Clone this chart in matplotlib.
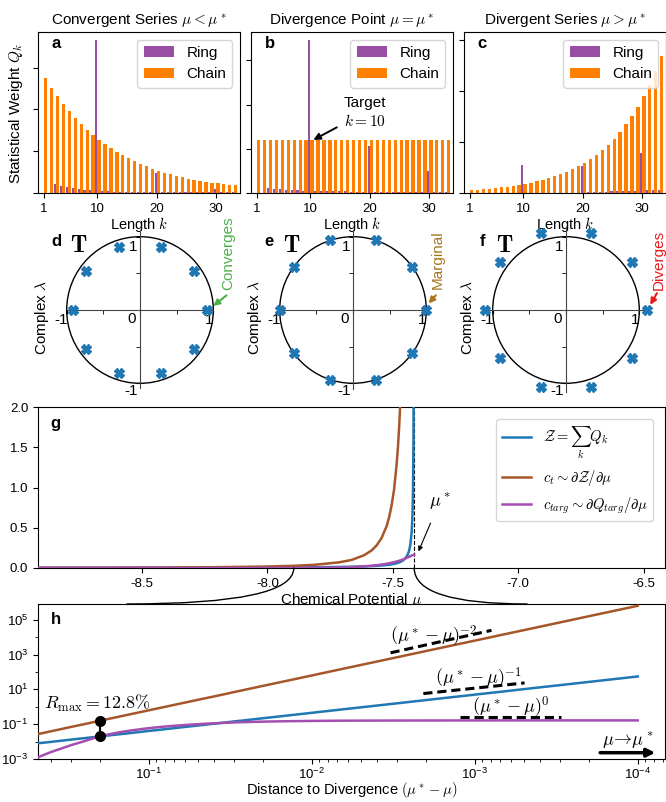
import numpy as np
import matplotlib.pyplot as plt
from matplotlib.patches import Circle, ConnectionPatch

plt.rcParams['font.family'] = ['Liberation Sans', 'DejaVu Sans']
plt.rcParams['mathtext.fontset'] = 'cm'
plt.rcParams['axes.unicode_minus'] = False

# ---- datos panel a-c : pesos estadisticos por longitud k ----
k = np.arange(1, 34)
chain_a = [2.74, 2.50, 2.32, 2.12, 1.96, 1.79, 1.64, 1.51, 1.39, 1.27, 1.17, 1.07, 0.98,
           0.90, 0.83, 0.76, 0.70, 0.64, 0.57, 0.52, 0.49, 0.45, 0.41, 0.38, 0.34, 0.31,
           0.29, 0.27, 0.25, 0.23, 0.21, 0.19, 0.18]
ring_a = [0, 0, 0.21, 0.17, 0.14, 0.12, 0.095, 0.07, 0.063, 3.67, 0.05, 0.048, 0.03,
          0.03, 0.025, 0.025, 0.025, 0.025, 0.025, 0.48, 0.02, 0.02, 0.02, 0.02, 0.02,
          0.02, 0.02, 0.02, 0.02, 0.09, 0.015, 0.015, 0.015]
chain_b = [1.2] * 33
ring_b = [0, 0, 0.105, 0.083, 0.083, 0.06, 0.06, 0.06, 0.04, 3.47, 0.04, 0.04, 0.04,
          0.04, 0.04, 0.04, 0.015, 0.015, 0.015, 1.07, 0.015, 0.015, 0.015, 0.015, 0.015,
          0.015, 0.015, 0.015, 0.015, 0.50, 0.015, 0.015, 0.015]
chain_c = [0.059, 0.059, 0.078, 0.078, 0.098, 0.118, 0.118, 0.137, 0.157, 0.176, 0.196,
           0.235, 0.255, 0.294, 0.333, 0.373, 0.41, 0.47, 0.53, 0.59, 0.667, 0.745, 0.843,
           0.941, 1.06, 1.196, 1.35, 1.51, 1.686, 1.9, 2.12, 2.38, 2.68]
ring_c = [0, 0, 0.005, 0.005, 0.005, 0.005, 0.005, 0.005, 0.005, 0.55, 0.005, 0.005,
          0.005, 0.005, 0.005, 0.005, 0.005, 0.005, 0.005, 0.53, 0.02, 0.02, 0.025, 0.025,
          0.03, 0.03, 0.04, 0.04, 0.045, 0.78, 0.05, 0.05, 0.06]
titulos = [r'Convergent Series $\mu < \mu^*$', r'Divergence Point $\mu = \mu^*$',
           r'Divergent Series $\mu > \mu^*$']
ytops = [3.85, 3.64, 3.15]

# ---- datos panel d-f : autovalores (angulo, radio) ----
angulos = [0, 36, 72, 108, 144, 180, 216, 252, 288, 324]
radios = [0.91, 1.0, 1.11]
notas = ['Converges', 'Marginal', 'Diverges']
# etiquetas de los ejes del plano complejo (texto, x, y)
etiquetas_plano = [('1', -0.09, 0.86), ('-1', -0.12, -1.11), ('-1', -1.07, -0.14),
                   ('0', -0.11, -0.12), ('1', 0.94, -0.14)]

# ---- datos panel g-h : curvas vs distancia a la divergencia ----
mu_star = -7.415
dist = np.array([1.5, 1.2, 1.0, 0.8, 0.6, 0.48, 0.4, 0.3, 0.25, 0.2, 0.17, 0.15, 0.13,
                 0.11, 0.1, 0.09, 0.08, 0.07, 0.065, 0.06, 0.055, 0.05, 0.045, 0.04,
                 0.035, 0.03, 0.025, 0.02, 0.015, 0.01, 0.007, 0.005, 0.003, 0.002,
                 0.001, 0.0007, 0.0005, 0.0003, 0.0002, 0.0001])
Z = np.array([0.0024, 0.0031, 0.0037, 0.0047, 0.0063, 0.0080, 0.0096, 0.013, 0.0157,
              0.0198, 0.0235, 0.0267, 0.031, 0.037, 0.041, 0.0456, 0.0515, 0.0593, 0.064,
              0.0697, 0.0762, 0.084, 0.094, 0.106, 0.122, 0.144, 0.173, 0.219, 0.295,
              0.451, 0.655, 0.93, 1.58, 2.42, 4.98, 7.2, 10.3, 17.5, 26.7, 55])
ct = np.array([0.0028, 0.0044, 0.0063, 0.0098, 0.0175, 0.027, 0.039, 0.070, 0.10, 0.158,
               0.218, 0.28, 0.373, 0.52, 0.63, 0.78, 0.98, 1.29, 1.49, 1.75, 2.08, 2.52,
               3.1, 3.9, 5.1, 7.0, 10.1, 15.8, 28, 63, 129, 252, 700, 1580, 6300, 12900,
               25200, 70000, 158000, 630000])
ctarg = np.array([2e-6, 1.5e-5, 5e-5, 0.00015, 0.0005, 0.00126, 0.0025, 0.0063, 0.0105,
                  0.0202, 0.028, 0.035, 0.043, 0.053, 0.059, 0.066, 0.073, 0.081, 0.085,
                  0.09, 0.095, 0.10, 0.106, 0.112, 0.118, 0.126, 0.133, 0.140, 0.147,
                  0.154, 0.158, 0.160, 0.162, 0.163, 0.164, 0.165, 0.165, 0.165, 0.165,
                  0.165])

naranja = '#ff7f00'
morado = '#984ea3'
azul = '#1f77b4'
cafe = '#a65628'
morado2 = '#a24fb0'

W, H = 666, 802
fig = plt.figure(figsize=(W / 100, H / 100), dpi=100)


def caja(l, t, r, b):
    return [l / W, 1 - b / H, (r - l) / W, (b - t) / H]


# ---------- paneles a, b, c ----------
lefts = [38, 251, 464]
datos = [(chain_a, ring_a), (chain_b, ring_b), (chain_c, ring_c)]
for i in range(3):
    ax = fig.add_axes(caja(lefts[i], 32, lefts[i] + 202, 193))
    ch, rg = datos[i]
    b1 = ax.bar(k, ch, width=0.55, align='edge', color=naranja, zorder=2)
    b2 = ax.bar(k, rg, width=-0.35, align='edge', color=morado, zorder=3)
    ax.set_xlim(0, 34)
    ax.set_ylim(0, ytops[i])
    ax.set_xticks([1, 10, 20, 30])
    ax.set_yticks([0, 1, 2, 3])
    ax.set_yticklabels([])
    ax.tick_params(labelsize=9.5)
    ax.set_xlabel('Length $k$', fontsize=10.5, labelpad=0)
    ax.set_title(titulos[i], fontsize=11, pad=6)
    ax.legend([b2, b1], ['Ring', 'Chain'], loc='upper right', fontsize=11)
    ax.text(0.068, 0.93, 'abc'[i], transform=ax.transAxes, fontsize=12,
            fontweight='bold', va='center')
    if i == 0:
        ax.set_ylabel('Statistical Weight $Q_k$', fontsize=11)
        ax.yaxis.set_label_coords(-0.065, 0.49)
    if i == 1:
        ax.annotate('Target\n$k=10$', xy=(10.5, 1.2), xytext=(19.1, 1.82),
                    ha='center', va='center', fontsize=11, multialignment='center',
                    arrowprops=dict(arrowstyle='-|>', color='k', lw=1.4,
                                    mutation_scale=10, shrinkA=3, shrinkB=0))

# ---------- paneles d, e, f ----------
centros = [140, 353, 566]
colores_nota = ['#4daf4a', '#a6761d', '#e41a1c']
limites = [(1.0, 1.06), (1.02, 1.08), (1.12, 1.12)]
flechas = [((1.18, 0.2), (1.0, 0.055)), ((1.13, 0.2), (1.03, 0.09)),
           ((1.24, 0.23), (1.15, 0.07))]
textos_y = [0.77, 0.68, 0.68]
textos_x = [1.2, 1.15, 1.26]
L = 1.35
for i in range(3):
    cx = centros[i]
    half = L * 73.3
    ax = fig.add_axes(caja(cx - half, 310 - half, cx + half, 310 + half))
    ax.patch.set_visible(False)
    ax.set_xlim(-L, L)
    ax.set_ylim(-L, L)
    ax.set_aspect('equal')
    for s in ['top', 'right']:
        ax.spines[s].set_visible(False)
    ax.spines['left'].set_position(('data', 0))
    ax.spines['bottom'].set_position(('data', 0))
    ax.spines['bottom'].set_bounds(-limites[i][0], limites[i][0])
    ax.spines['left'].set_bounds(-limites[i][1], limites[i][1])
    for s in ['left', 'bottom']:
        ax.spines[s].set_color('#444444')
    ax.set_xticks([-1, 0, 1])
    ax.set_yticks([-1, 1])
    ax.set_xticks([-0.5, 0.5], minor=True)
    ax.set_yticks([-0.5, 0.5], minor=True)
    ax.set_xticklabels([])
    ax.set_yticklabels([])
    ax.tick_params(which='both', length=3)
    for txt, tx, ty in etiquetas_plano:
        ax.text(tx, ty, txt, fontsize=11, ha='center', va='center')
    ax.add_patch(Circle((0, 0), 1.0, fill=False, color='k', lw=1.0, zorder=2))
    r = radios[i]
    th = np.deg2rad(angulos)
    ax.plot(r * np.cos(th), r * np.sin(th), 'X', color=azul, ms=6.5, zorder=4,
            clip_on=False)
    ax.text(-1.14, 0.93, 'def'[i], fontsize=12, fontweight='bold', ha='center',
            va='center')
    ax.text(-0.84, 0.87, r'$\mathbf{T}$', fontsize=17, ha='center', va='center')
    ax.text(-1.34, -0.1, r'Complex $\lambda$', rotation=90, fontsize=11, ha='center',
            va='center')
    ax.text(textos_x[i], textos_y[i], notas[i], rotation=90, fontsize=11,
            color=colores_nota[i], ha='center', va='center')
    ax.annotate('', xy=flechas[i][1], xytext=flechas[i][0], annotation_clip=False,
                arrowprops=dict(arrowstyle='-|>', color=colores_nota[i], lw=1.5,
                                mutation_scale=9, shrinkA=0, shrinkB=0))

# ---------- panel g ----------
mu = mu_star - dist
axg = fig.add_axes(caja(38, 407, 665, 568))
axg.plot(mu, Z, color=azul, lw=1.8, label=r'$\mathcal{Z} = \sum_k Q_k$', zorder=3)
axg.plot(mu, ct, color=cafe, lw=1.8, label=r'$c_t \sim \partial\mathcal{Z}/\partial\mu$',
         zorder=3)
axg.plot(mu, ctarg, color=morado2, lw=1.8,
         label=r'$c_{targ} \sim \partial Q_{targ}/\partial\mu$', zorder=4)
axg.axvline(mu_star, color='k', ls='--', lw=0.8, zorder=2)
axg.set_xlim(mu_star - 1.5, mu_star + 1.0)
axg.set_ylim(0, 2)
axg.set_xticks([-8.5, -8.0, -7.5, -7.0, -6.5])
axg.set_yticks([0, 0.5, 1.0, 1.5, 2.0])
axg.tick_params(labelsize=9.5)
axg.set_xlabel(r'Chemical Potential $\mu$', fontsize=11, labelpad=1)
axg.legend(loc='upper right', fontsize=10.5, handlelength=2, borderaxespad=0.8)
axg.text(0.02, 0.9, 'g', transform=axg.transAxes, fontsize=12, fontweight='bold',
         va='center')
axg.annotate(r'$\mu^*$', xy=(-7.398, 0.206), xytext=(-7.314, 0.82), fontsize=13,
             ha='center', va='center',
             arrowprops=dict(arrowstyle='-|>', color='k', lw=0.8, mutation_scale=7,
                             shrinkA=6, shrinkB=0))

# ---------- panel h ----------
axh = fig.add_axes(caja(38, 604, 665, 759))
axh.plot(dist, ct, color=cafe, lw=1.8, zorder=3)
axh.plot(dist, Z, color=azul, lw=1.8, zorder=3)
axh.plot(dist, ctarg, color=morado2, lw=1.8, zorder=4)
axh.set_xscale('log')
axh.set_yscale('log')
axh.set_xlim(0.48, 6.8e-5)
axh.set_ylim(1e-3, 8e5)
axh.set_xticks([1e-1, 1e-2, 1e-3, 1e-4])
axh.set_yticks([1e-3, 1e-1, 1e1, 1e3, 1e5])
axh.set_yticks([1e-2, 1, 1e2, 1e4], minor=True)
axh.yaxis.set_minor_formatter(plt.NullFormatter())
axh.tick_params(labelsize=9.5)
axh.tick_params(axis='x', pad=2)
axh.set_xlabel(r'Distance to Divergence $(\mu^* - \mu)$', fontsize=10.5, labelpad=-1)
axh.text(0.02, 0.9, 'h', transform=axh.transAxes, fontsize=12, fontweight='bold',
         va='center')

# pendientes de referencia
pend_x = [(3.29e-3, 7.9e-4), (2.07e-3, 4.95e-4), (1.24e-3, 2.97e-4)]
pend_y = [(1259, 24500), (5.73, 23.4), (0.26, 0.26)]
pend_lab = [r'$(\mu^* - \mu)^{-2}$', r'$(\mu^* - \mu)^{-1}$', r'$(\mu^* - \mu)^{0}$']
pend_pos = [(1.78e-3, 1.17e4), (9.5e-4, 45), (6.0e-4, 0.95)]
for px, py, lab, pos in zip(pend_x, pend_y, pend_lab, pend_pos):
    axh.plot(px, py, color='k', ls=(0, (3, 1.6)), lw=2.2, zorder=5)
    axh.text(pos[0], pos[1], lab, fontsize=13, ha='center', va='center')

axh.plot([0.2, 0.2], [0.158, 0.0202], 'k-o', ms=7, lw=1.5, zorder=6)
axh.text(0.206, 1.46, r'$R_{\max} = 12.8\%$', fontsize=13, ha='center', va='center')
axh.text(1.15e-4, 0.0105, r'$\mu\!\rightarrow\!\mu^*$', fontsize=13, ha='center',
         va='center')
axh.annotate('', xy=(7.8e-5, 0.0023), xytext=(1.7e-4, 0.0023),
             arrowprops=dict(arrowstyle='-|>', color='k', lw=2.5, mutation_scale=12,
                             shrinkA=0, shrinkB=0))

# arcos que unen g con h
for xa, xb in [(mu_star - 0.48, 0.142), (mu_star, 0.78)]:
    con = ConnectionPatch(xyA=(xa, 0), coordsA=axg.transData, xyB=(xb, 1.0),
                          coordsB=axh.transAxes, arrowstyle='-', lw=1.0, color='k',
                          connectionstyle='angle3,angleA=90,angleB=0')
    fig.add_artist(con)

fig.savefig('out.png', dpi=100)
